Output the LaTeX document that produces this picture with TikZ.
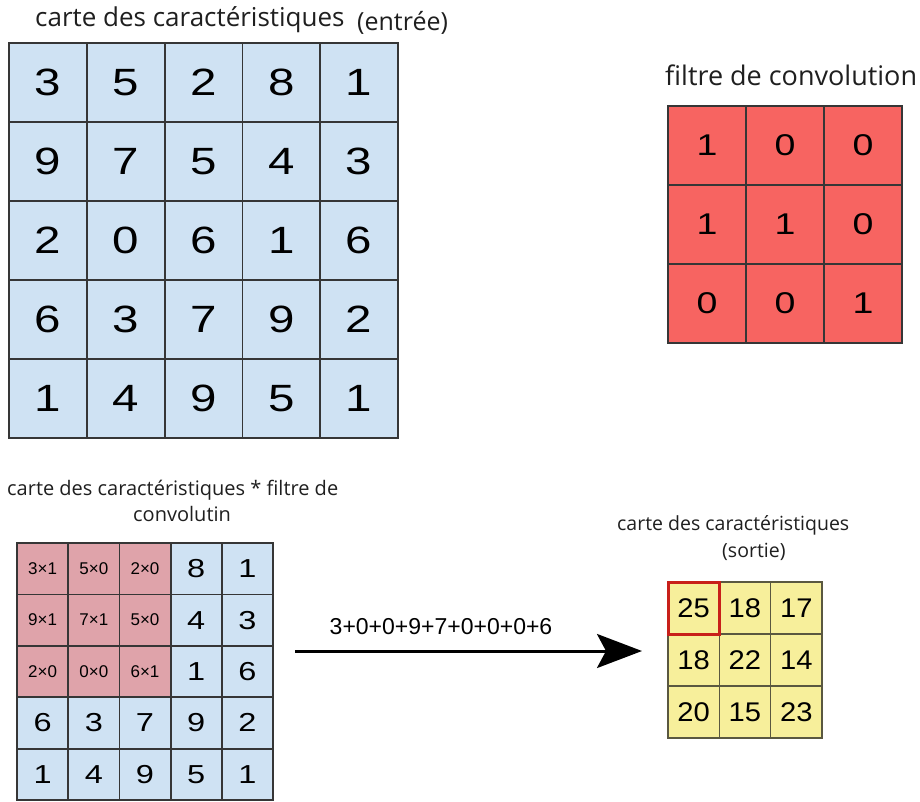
\documentclass[tikz,border=0pt]{standalone}
\usepackage{fontspec}
\setmainfont{Open Sans}
\newfontfamily\numfont{Liberation Sans}
\newfontfamily\numwide[FakeStretch=1.25]{Liberation Sans}
\newfontfamily\numsemi[FakeStretch=1.08]{Liberation Sans}
\usetikzlibrary{arrows.meta}
\definecolor{cellblue}{HTML}{CFE2F3}
\definecolor{cellred}{HTML}{F76461}
\definecolor{cellpink}{HTML}{DFA3AA}
\definecolor{cellyellow}{HTML}{F7EF9B}
\definecolor{gridline}{HTML}{363636}
\definecolor{outline}{HTML}{5A5840}
\definecolor{boxred}{HTML}{C8201A}
\tikzset{
  cellbase/.style={draw=gridline, line width=1.8pt, inner sep=0pt, outer sep=0pt, text=black, font=\numfont},
  incell/.style={cellbase, fill=cellblue, minimum width=77.8pt, minimum height=79pt, font=\numwide\fontsize{38}{40}\selectfont},
  filtcell/.style={cellbase, fill=cellred, minimum width=78pt, minimum height=79pt, font=\numwide\fontsize{30}{33}\selectfont},
  bluecell/.style={cellbase, fill=cellblue, minimum width=51.2pt, minimum height=51.4pt, font=\numwide\fontsize{26}{28}\selectfont},
  pinkcell/.style={cellbase, fill=cellpink, minimum width=51.2pt, minimum height=51.4pt, font=\numfont\fontsize{17}{19}\selectfont},
  outcell/.style={cellbase, line width=1.5pt, draw=outline, fill=cellyellow, minimum width=51.3pt, minimum height=52pt, font=\numsemi\fontsize{27}{29}\selectfont},
  redbox/.style={draw=boxred, line width=3pt},
  title/.style={inner sep=0pt, anchor=base west, text=black!88},
  conn/.style={line width=3pt, -{Stealth[length=45pt, width=34pt, inset=9pt]}},
}
\begin{document}
\begin{tikzpicture}[x=1pt,y=-1pt]
\useasboundingbox (0,0) rectangle (920,802);
\fill[white] (0,0) rectangle (920,802);

% input feature map
\node[title, font=\fontsize{26}{29}\selectfont] (tin) at (35,27) {carte des caractéristiques};
\node[title, font=\fontsize{25}{28}\selectfont] (tin2) at (357,31) {(entrée)};
\foreach \row [count=\r] in {{3,5,2,8,1},{9,7,5,4,3},{2,0,6,1,6},{6,3,7,9,2},{1,4,9,5,1}}{
  \foreach \v [count=\c] in \row {
    \node[incell] (in-\r-\c) at ({9+77.8*(\c-0.5)},{43+79*(\r-0.5)}) {\v};
  }
}

% filter
\node[title, font=\fontsize{27}{30}\selectfont] (tf) at (665,86) {filtre de convolution};
\foreach \row [count=\r] in {{1,0,0},{1,1,0},{0,0,1}}{
  \foreach \v [count=\c] in \row {
    \node[filtcell] (f-\r-\c) at ({668+78*(\c-0.5)},{106+79*(\r-0.5)}) {\v};
  }
}

% convolution
\node[title, font=\fontsize{20}{23}\selectfont] (tc1) at (7,495) {carte des caractéristiques * filtre de};
\node[title, font=\fontsize{20}{23}\selectfont] (tc2) at (133,521) {convolutin};
\foreach \row [count=\r] in {{3×1,5×0,2×0,8,1},{9×1,7×1,5×0,4,3},{2×0,0×0,6×1,1,6},{6,3,7,9,2},{1,4,9,5,1}}{
  \foreach \v [count=\c] in \row {
    \ifnum\r<4 \ifnum\c<4 \def\cst{pinkcell}\else\def\cst{bluecell}\fi\else\def\cst{bluecell}\fi
    \node[\cst] (cv-\r-\c) at ({17+51.2*(\c-0.5)},{543+51.4*(\r-0.5)}) {\v};
  }
}

% output
\node[title, font=\fontsize{19.5}{22}\selectfont] (to1) at (617,530) {carte des caractéristiques};
\node[title, font=\fontsize{19.5}{22}\selectfont] (to2) at (722,557) {(sortie)};
\foreach \row [count=\r] in {{25,18,17},{18,22,14},{20,15,23}}{
  \foreach \v [count=\c] in \row {
    \node[outcell] (out-\r-\c) at ({668+51.3*(\c-0.5)},{582+52*(\r-0.5)}) {\v};
  }
}
\draw[redbox] (out-1-1.north west) rectangle (out-1-1.south east);

% arrow
\coordinate (as) at (295,651);
\coordinate (ae) at (642,651);
\draw[conn] (as) -- (ae);
\node[inner sep=0pt, font=\numfont\fontsize{23}{25}\selectfont] (lab) at (441,627) {3+0+0+9+7+0+0+0+6};
\end{tikzpicture}
\end{document}
